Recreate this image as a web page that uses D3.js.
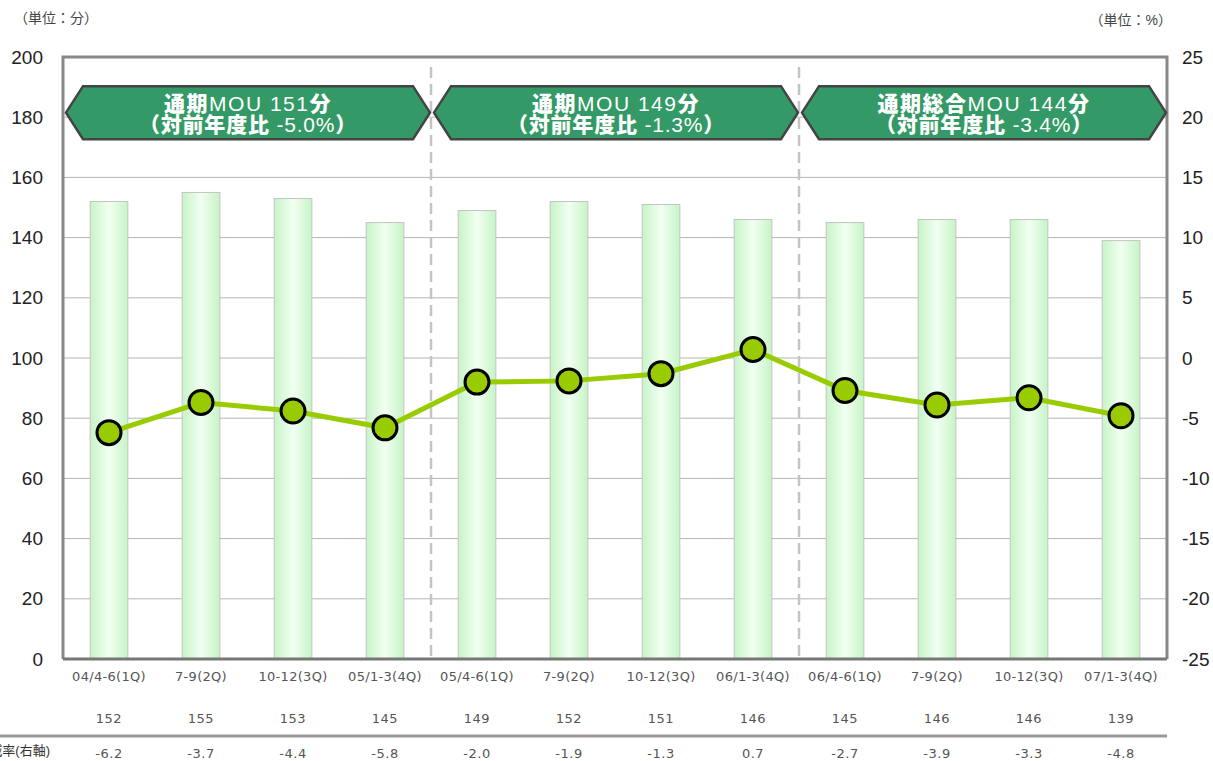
<!DOCTYPE html>
<html>
<head>
<meta charset="utf-8">
<script src="https://cdn.jsdelivr.net/npm/d3@7"></script>
<style>
  body { margin: 0; background: #fff; }
  svg { display: block; font-family: Arial, "Liberation Sans", "Noto Sans CJK JP", sans-serif; }
</style>
</head>
<body>
<svg id="chart"></svg>
<script>
const categories = ['04/4-6(1Q)', '7-9(2Q)', '10-12(3Q)', '05/1-3(4Q)', '05/4-6(1Q)', '7-9(2Q)',
  '10-12(3Q)', '06/1-3(4Q)', '06/4-6(1Q)', '7-9(2Q)', '10-12(3Q)', '07/1-3(4Q)'];
const mouValues = [152, 155, 153, 145, 149, 152, 151, 146, 145, 146, 146, 139];
const changeValues = [-6.2, -3.7, -4.4, -5.8, -2.0, -1.9, -1.3, 0.7, -2.7, -3.9, -3.3, -4.8];
const leftTicks = [0, 20, 40, 60, 80, 100, 120, 140, 160, 180, 200];
const rightTicks = [-25, -20, -15, -10, -5, 0, 5, 10, 15, 20, 25];
const bannerTitles = ['通期MOU 151分', '通期MOU 149分', '通期総合MOU 144分'];
const bannerSubs = ['（対前年度比 -5.0%）', '（対前年度比 -1.3%）', '（対前年度比 -3.4%）'];
const bannerSpans = [[0, 3], [4, 7], [8, 11]];

const width = 1213, height = 761;
const margin = { top: 57, right: 46, bottom: 102, left: 63 };
const innerW = width - margin.left - margin.right;
const innerH = height - margin.top - margin.bottom;

const svg = d3.select('#chart').attr('width', width).attr('height', height);

const defs = svg.append('defs');
const grad = defs.append('linearGradient').attr('id', 'barGrad')
  .attr('x1', '0%').attr('x2', '100%').attr('y1', '0%').attr('y2', '0%');
grad.append('stop').attr('offset', '0%').attr('stop-color', '#c6f4c6');
grad.append('stop').attr('offset', '50%').attr('stop-color', '#f2fff2');
grad.append('stop').attr('offset', '100%').attr('stop-color', '#c6f4c6');

const x = d3.scaleBand().domain(d3.range(categories.length)).range([0, innerW]).paddingInner(0.59).paddingOuter(0.295);
const step = x.step();
const yL = d3.scaleLinear().domain([0, 200]).range([innerH, 0]);
const yR = d3.scaleLinear().domain([-25, 25]).range([innerH, 0]);

const g = svg.append('g').attr('transform', `translate(${margin.left},${margin.top})`);

// gridlines
g.selectAll('.grid').data(leftTicks.filter(d => d > 0 && d < 200)).enter()
  .append('line')
  .attr('x1', 0).attr('x2', innerW)
  .attr('y1', d => yL(d)).attr('y2', d => yL(d))
  .attr('stroke', '#b4b4b4').attr('stroke-width', 1);

// bars
g.selectAll('.bar').data(mouValues).enter()
  .append('rect')
  .attr('x', (d, i) => x(i))
  .attr('y', d => yL(d))
  .attr('width', x.bandwidth())
  .attr('height', d => innerH - yL(d))
  .attr('fill', 'url(#barGrad)')
  .attr('stroke', '#c4c4c4').attr('stroke-width', 1);

// dashed separators
[4, 8].forEach(i => {
  const xx = i * step;
  g.append('line')
    .attr('x1', xx).attr('x2', xx)
    .attr('y1', 10).attr('y2', innerH)
    .attr('stroke', '#c4c4c4').attr('stroke-width', 2.5)
    .attr('stroke-dasharray', '11,6');
});

// frame
g.append('path')
  .attr('d', `M0,${innerH}V0H${innerW}V${innerH}`)
  .attr('fill', 'none').attr('stroke', '#888').attr('stroke-width', 3);
g.append('line').attr('x1', 0).attr('x2', innerW).attr('y1', innerH).attr('y2', innerH)
  .attr('stroke', '#777').attr('stroke-width', 3);

// banners: CJK glyphs heavy, latin regular
function addMixed(sel, str, spacing) {
  str.match(/[\u3000-\u9fff\uff00-\uffef]+|[^\u3000-\u9fff\uff00-\uffef]+/g).forEach(part => {
    const cjk = /[\u3000-\u9fff\uff00-\uffef]/.test(part);
    sel.append('tspan')
      .attr('font-weight', cjk ? 900 : 'normal')
      .attr('letter-spacing', spacing)
      .text(part);
  });
}
const bTop = yL(190.3), bBot = yL(172.7), bMid = (bTop + bBot) / 2, notch = 17;
bannerSpans.forEach((s, k) => {
  const x0 = s[0] * step + 3, x1 = (s[1] + 1) * step - 1;
  const pts = [[x0, bMid], [x0 + notch, bTop], [x1 - notch, bTop], [x1, bMid], [x1 - notch, bBot], [x0 + notch, bBot]];
  g.append('polygon')
    .attr('points', pts.map(p => p.join(',')).join(' '))
    .attr('fill', '#339966').attr('stroke', '#444').attr('stroke-width', 2.5);
  const cx = (x0 + x1) / 2;
  const t1 = g.append('text').attr('x', cx).attr('y', bMid - 2)
    .attr('text-anchor', 'middle').attr('fill', '#fff').attr('font-size', 21);
  addMixed(t1, bannerTitles[k], 1.5);
  const t2 = g.append('text').attr('x', cx).attr('y', bMid + 19)
    .attr('text-anchor', 'middle').attr('fill', '#fff').attr('font-size', 21);
  addMixed(t2, bannerSubs[k], 0.8);
});

// line
const line = d3.line()
  .x((d, i) => x(i) + x.bandwidth() / 2)
  .y(d => yR(d));
g.append('path').datum(changeValues)
  .attr('d', line)
  .attr('fill', 'none').attr('stroke', '#99cc00').attr('stroke-width', 5);
g.selectAll('.pt').data(changeValues).enter()
  .append('circle')
  .attr('cx', (d, i) => x(i) + x.bandwidth() / 2)
  .attr('cy', d => yR(d))
  .attr('r', 12)
  .attr('fill', '#99cc00').attr('stroke', '#000').attr('stroke-width', 3);

// axes
const leftAxis = g.append('g').call(d3.axisLeft(yL).tickValues(leftTicks).tickSize(0).tickPadding(20));
leftAxis.select('.domain').remove();
leftAxis.selectAll('text').attr('font-size', 19).attr('fill', '#222')
  .attr('font-family', 'Arial, "Liberation Sans", sans-serif');

const rightAxis = g.append('g').attr('transform', `translate(${innerW},0)`)
  .call(d3.axisRight(yR).tickValues(rightTicks).tickFormat(d => String(d)).tickSize(0).tickPadding(15));
rightAxis.select('.domain').remove();
rightAxis.selectAll('text').attr('font-size', 19).attr('fill', '#222')
  .attr('font-family', 'Arial, "Liberation Sans", sans-serif');

const bottomAxis = g.append('g').attr('transform', `translate(0,${innerH})`)
  .call(d3.axisBottom(x).tickFormat(i => categories[i]).tickSize(0).tickPadding(13));
bottomAxis.select('.domain').remove();
bottomAxis.selectAll('text').attr('font-size', 13).attr('fill', '#555')
  .attr('font-family', '"DejaVu Sans", sans-serif').attr('letter-spacing', 0.3);

// table rows
const row1 = innerH + 64, row2 = innerH + 99;
g.selectAll('.r1').data(mouValues).enter()
  .append('text')
  .attr('x', (d, i) => x(i) + x.bandwidth() / 2).attr('y', row1)
  .attr('text-anchor', 'middle').attr('font-size', 13).attr('fill', '#555')
  .attr('font-family', '"DejaVu Sans", sans-serif').attr('letter-spacing', 0.5)
  .text(d => d);
g.selectAll('.r2').data(changeValues).enter()
  .append('text')
  .attr('x', (d, i) => x(i) + x.bandwidth() / 2).attr('y', row2)
  .attr('text-anchor', 'middle').attr('font-size', 13).attr('fill', '#555')
  .attr('font-family', '"DejaVu Sans", sans-serif').attr('letter-spacing', 0.5)
  .text(d => d.toFixed(1));
svg.append('line')
  .attr('x1', 0).attr('x2', margin.left + innerW)
  .attr('y1', margin.top + innerH + 77).attr('y2', margin.top + innerH + 77)
  .attr('stroke', '#999').attr('stroke-width', 3);
svg.append('text').attr('x', 50).attr('y', margin.top + row2 - 3)
  .attr('text-anchor', 'end').attr('font-size', 13).attr('fill', '#333')
  .text('前年同期比増減率(右軸)');

// unit labels
svg.append('text').attr('x', 14).attr('y', 23).attr('font-size', 14).attr('fill', '#444').text('（単位：分）');
svg.append('text').attr('x', 1172).attr('y', 25).attr('text-anchor', 'end')
  .attr('font-size', 14).attr('fill', '#444').text('（単位：%）');
</script>
</body>
</html>
